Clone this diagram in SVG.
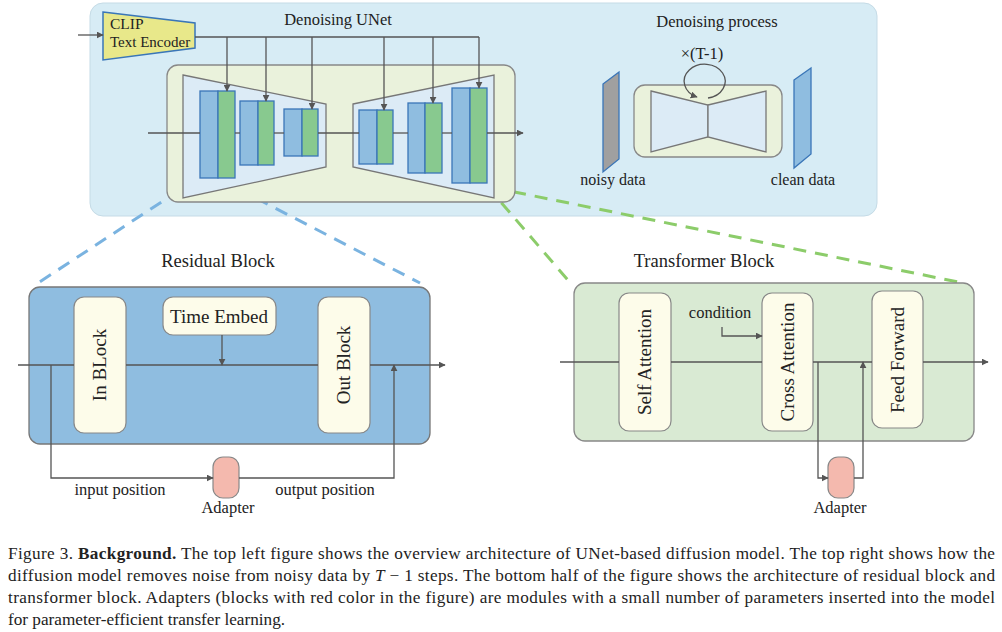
<svg xmlns="http://www.w3.org/2000/svg" width="1002" height="632" viewBox="0 0 1002 632" font-family="'Liberation Serif','Times New Roman',serif">
<defs>
<marker id="arr" viewBox="0 0 10 10" refX="9" refY="5" markerWidth="7" markerHeight="7" markerUnits="userSpaceOnUse" orient="auto"><path d="M0,0 L10,5 L0,10 z" fill="#555"/></marker>
<style>
text{font-family:"Liberation Serif","Times New Roman",serif;fill:#222}
.lbl{font-size:16.5px}
.box{font-size:19px}
.ln{stroke:#555;stroke-width:1.3;fill:none}
.bl{fill:#8fbde0;stroke:#3a76b8;stroke-width:1.3}
.gr{fill:#88c98f;stroke:#3a76b8;stroke-width:1.3}
.trap{fill:#dcebf6;stroke:#777;stroke-width:1.3}
.cream{fill:#fdfcea;stroke:#888;stroke-width:1.2}
.adp{fill:#f4b9ae;stroke:#888;stroke-width:1.2}
.dashb{stroke:#7ab3e0;stroke-width:3;stroke-dasharray:13 9;fill:none}
.dashg{stroke:#8ccc6a;stroke-width:3;stroke-dasharray:13 9;fill:none}
</style>
</defs>
<rect width="1002" height="632" fill="#fff"/>

<g id="top-panel">
<rect x="90" y="3" width="787" height="213" rx="13" fill="#d7ecf5" stroke="#c5dbe6" stroke-width="1"/>
</g>

<g id="dashed-zoom">
<line class="dashb" x1="198" y1="178" x2="38" y2="283"/>
<line class="dashb" x1="217" y1="178" x2="420" y2="283"/>
<line class="dashg" x1="470" y1="183" x2="963" y2="283"/>
<line class="dashg" x1="487" y1="186" x2="573" y2="286"/>
</g>

<g id="clip-encoder">
<polygon points="103,12 195,23 195,48 103,60" fill="#e8e88a" stroke="#3a76b8" stroke-width="1.5"/>
<text class="lbl" x="110" y="29" style="font-size:15.5px">CLIP</text>
<text class="lbl" x="110" y="47" style="font-size:15px">Text Encoder</text>
</g>
<text class="lbl" x="338" y="25" text-anchor="middle">Denoising UNet</text>

<g id="unet">
<rect x="167" y="65" width="348" height="137" rx="11" fill="#eaf2dc" stroke="#888" stroke-width="1.3"/>
<polygon class="trap" points="183,75 326,104 326,167 183,198"/>
<polygon class="trap" points="353,104 494,75 494,198 353,167"/>
</g>

<g id="unet-blocks">
<rect class="bl" x="200" y="91" width="18" height="87"/><rect class="gr" x="218" y="91" width="17" height="87"/>
<rect class="bl" x="240" y="101" width="18" height="64"/><rect class="gr" x="258" y="101" width="16" height="64"/>
<rect class="bl" x="284" y="109" width="18" height="47"/><rect class="gr" x="302" y="109" width="16" height="47"/>
<rect class="bl" x="359" y="110" width="18" height="54"/><rect class="gr" x="377" y="110" width="16" height="54"/>
<rect class="bl" x="408" y="103" width="17" height="70"/><rect class="gr" x="425" y="103" width="17" height="70"/>
<rect class="bl" x="452" y="88" width="18" height="95"/><rect class="gr" x="470" y="88" width="17" height="95"/>
</g>

<g id="denoising-process">
<text class="lbl" x="717" y="27" text-anchor="middle">Denoising process</text>
<text class="lbl" x="702" y="59" text-anchor="middle">×(T-1)</text>
<polygon points="603,84 619,72 619,159 603,172" fill="#a0a0a0" stroke="#3a76b8" stroke-width="1.3"/>
<text class="lbl" x="613" y="185" text-anchor="middle" style="font-size:16px">noisy data</text>
<rect x="634" y="85" width="148" height="72" rx="11" fill="#eaf2dc" stroke="#888" stroke-width="1.3"/>
<polygon class="trap" points="651,91 708,105 708,137 651,152"/>
<polygon class="trap" points="708,105 766,91 766,152 708,137"/>
<polygon points="794,80 811,68 811,154 794,168" fill="#8fbde0" stroke="#3a76b8" stroke-width="1.3"/>
<text class="lbl" x="803" y="185" text-anchor="middle" style="font-size:16px">clean data</text>
</g>

<g id="residual-block">
<text class="box" x="218" y="267" text-anchor="middle" style="font-size:18.5px">Residual Block</text>
<rect x="29" y="287" width="401" height="157" rx="11" fill="#8fbde0" stroke="#777" stroke-width="1.3"/>
<rect class="cream" x="74" y="297" width="52" height="136" rx="10"/>
<text class="box" transform="translate(106,365) rotate(-90)" text-anchor="middle">In BLock</text>
<rect class="cream" x="163" y="297" width="113" height="38" rx="10"/>
<text class="box" x="219" y="323" text-anchor="middle">Time Embed</text>
<rect class="cream" x="318" y="297" width="52" height="136" rx="10"/>
<text class="box" transform="translate(350,365) rotate(-90)" text-anchor="middle">Out Block</text>
</g>

<g id="residual-adapter">
<rect class="adp" x="213" y="457" width="26" height="41" rx="10"/>
<text class="lbl" x="228" y="513" text-anchor="middle">Adapter</text>
<text class="lbl" x="120" y="495" text-anchor="middle">input position</text>
<text class="lbl" x="325" y="495" text-anchor="middle">output position</text>
</g>

<g id="transformer-block">
<text class="box" x="704" y="267" text-anchor="middle" style="font-size:18.5px">Transformer Block</text>
<rect x="574" y="283" width="400" height="158" rx="11" fill="#d9ead3" stroke="#888" stroke-width="1.3"/>
<rect class="cream" x="619" y="293" width="52" height="138" rx="10"/>
<text class="box" transform="translate(651,362) rotate(-90)" text-anchor="middle">Self Attention</text>
<rect class="cream" x="762" y="293" width="51" height="138" rx="10"/>
<text class="box" transform="translate(794,362) rotate(-90)" text-anchor="middle">Cross Attention</text>
<rect class="cream" x="872" y="291" width="51" height="137" rx="10"/>
<text class="box" transform="translate(904,360) rotate(-90)" text-anchor="middle">Feed Forward</text>
<text class="lbl" x="720" y="318" text-anchor="middle">condition</text>
</g>

<g id="transformer-adapter">
<rect class="adp" x="828" y="457" width="26" height="41" rx="10"/>
<text class="lbl" x="840" y="513" text-anchor="middle">Adapter</text>
</g>

<g id="connectors">
<line class="ln" x1="78" y1="35" x2="103" y2="35" marker-end="url(#arr)"/>
<polyline class="ln" points="195,37 479,37"/>
<line class="ln" x1="227" y1="37" x2="227" y2="91" marker-end="url(#arr)"/>
<line class="ln" x1="266" y1="37" x2="266" y2="101" marker-end="url(#arr)"/>
<line class="ln" x1="312" y1="37" x2="312" y2="109" marker-end="url(#arr)"/>
<line class="ln" x1="384" y1="37" x2="384" y2="110" marker-end="url(#arr)"/>
<line class="ln" x1="433" y1="37" x2="433" y2="103" marker-end="url(#arr)"/>
<line class="ln" x1="479" y1="37" x2="479" y2="88" marker-end="url(#arr)"/>
<line class="ln" x1="148" y1="133" x2="200" y2="133"/>
<line class="ln" x1="235" y1="133" x2="240" y2="133"/>
<line class="ln" x1="274" y1="133" x2="284" y2="133"/>
<line class="ln" x1="318" y1="133" x2="359" y2="133"/>
<line class="ln" x1="393" y1="133" x2="408" y2="133"/>
<line class="ln" x1="442" y1="133" x2="452" y2="133"/>
<line class="ln" x1="487" y1="133" x2="523" y2="133" marker-end="url(#arr)"/>
<path class="ln" d="M708,98 A20.5,17 0 1 0 697,97" marker-end="url(#arr)"/>
<line class="ln" x1="18" y1="365" x2="74" y2="365"/>
<line class="ln" x1="126" y1="365" x2="318" y2="365"/>
<line class="ln" x1="370" y1="365" x2="445" y2="365" marker-end="url(#arr)"/>
<line class="ln" x1="222" y1="335" x2="222" y2="365" marker-end="url(#arr)"/>
<polyline class="ln" points="51,365 51,478 213,478" marker-end="url(#arr)"/>
<polyline class="ln" points="239,478 394,478 394,365" marker-end="url(#arr)"/>
<line class="ln" x1="560" y1="362" x2="619" y2="362"/>
<line class="ln" x1="671" y1="362" x2="762" y2="362"/>
<line class="ln" x1="813" y1="362" x2="872" y2="362"/>
<line class="ln" x1="923" y1="362" x2="988" y2="362" marker-end="url(#arr)"/>
<polyline class="ln" points="722,327 722,336 762,336" marker-end="url(#arr)"/>
<polyline class="ln" points="818,362 818,478 828,478" marker-end="url(#arr)"/>
<polyline class="ln" points="854,478 863,478 863,362" marker-end="url(#arr)"/>
</g>

<g id="caption" style="font-size:17.2px">
<text x="8" y="559" textLength="987" lengthAdjust="spacing">Figure 3. <tspan font-weight="bold">Background.</tspan> The top left figure shows the overview architecture of UNet-based diffusion model. The top right shows how the</text>
<text x="8" y="581" textLength="987" lengthAdjust="spacing">diffusion model removes noise from noisy data by <tspan font-style="italic">T</tspan> − 1 steps. The bottom half of the figure shows the architecture of residual block and</text>
<text x="8" y="603" textLength="987" lengthAdjust="spacing">transformer block. Adapters (blocks with red color in the figure) are modules with a small number of parameters inserted into the model</text>
<text x="8" y="625">for parameter-efficient transfer learning.</text>
</g>
</svg>
